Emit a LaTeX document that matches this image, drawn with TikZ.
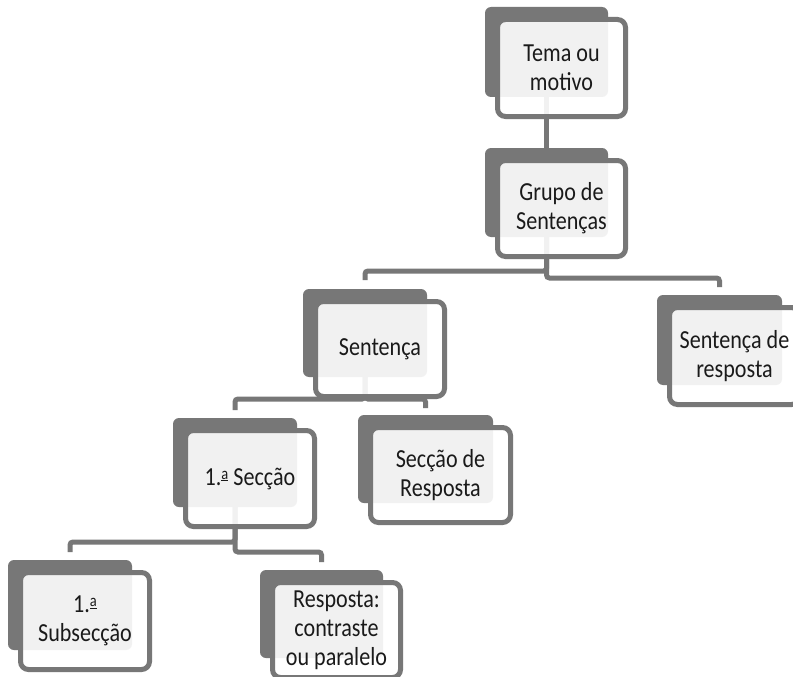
\documentclass[tikz,border=0pt]{standalone}
\usepackage{fontspec}
\setmainfont{Carlito}[FakeStretch=0.85]
\usetikzlibrary{calc}
\definecolor{boxgray}{HTML}{777777}
\definecolor{inkgray}{HTML}{1a1a1a}
\pgfdeclarelayer{links}
\pgfsetlayers{links,main}
\tikzset{
  x=1pt, y=1pt,
  backbox/.style={fill=boxgray, rounded corners=6pt, anchor=north west,
    inner sep=0pt, outer sep=0pt},
  frontbox/.style={draw=boxgray, line width=5pt, fill=white, fill opacity=0.9,
    text opacity=1, rounded corners=8pt, anchor=north west, inner sep=0pt,
    outer sep=0pt, align=center, text=inkgray,
    font=\fontsize{26}{29}\selectfont},
  link/.style={draw=boxgray, line width=5pt, rounded corners=3pt}
}
% ordinal indicator: small raised a with a bar under it
\newcommand\ordfem{\raisebox{6pt}{\fontsize{17}{17}\selectfont\underline{a}}}
% #1 name, #2 x, #3 y (top-left of the dark back plate), #4 width, #5 height, #6 text
\newcommand\twobox[6]{%
  \node[backbox, minimum width=#4, minimum height=#5] (#1b) at (#2,-#3) {};
  \node[frontbox, minimum width=#4+5, minimum height=#5+7] (#1) at (#2+12.5,-#3-12.5) {#6};
}
\begin{document}
\begin{tikzpicture}
  \clip (0,0) rectangle (793,-677);

  \twobox{tema}{485}{7}{123}{90}{Tema ou\\motivo}
  \twobox{grupo}{485}{148}{123}{89}{Grupo de\\Sentenças}
  \twobox{sent}{303}{289}{124}{88}{Sentença}
  \twobox{resp}{657}{295}{125}{90}{Sentença de\\resposta}
  \twobox{secc}{173}{418}{124}{89}{1.\ordfem\ Secção}
  \twobox{sresp}{358}{415}{135}{88}{Secção de\\Resposta}
  \twobox{sub}{8}{560}{124}{90}{1.\ordfem\\Subsecção}
  \twobox{cont}{260}{570}{123}{88}{Resposta:\\contraste\\ou paralelo}

  \begin{pgfonlayer}{links}
    \fill[white] (0,0) rectangle (793,-677);
    \draw[link] (temab.south) -- (grupob.north);
    \draw[link] (grupob.south) -- ++(0,-34) -| ($(sentb.north)+(0,9)$);
    \draw[link] (grupob.south) -- ++(0,-41) -| ($(respb.north)+(0,8)$);
    \draw[link] (sentb.south) -- ++(0,-22) -| ($(seccb.north)+(0,8)$);
    \draw[link] (sentb.south) -- ++(0,-22) -| ($(srespb.north)+(0,7)$);
    \draw[link] (seccb.south) -- ++(0,-35) -| ($(subb.north)+(0,8)$);
    \draw[link] (seccb.south) -- ++(0,-45) -| ($(contb.north)+(0,8)$);
  \end{pgfonlayer}
\end{tikzpicture}
\end{document}
